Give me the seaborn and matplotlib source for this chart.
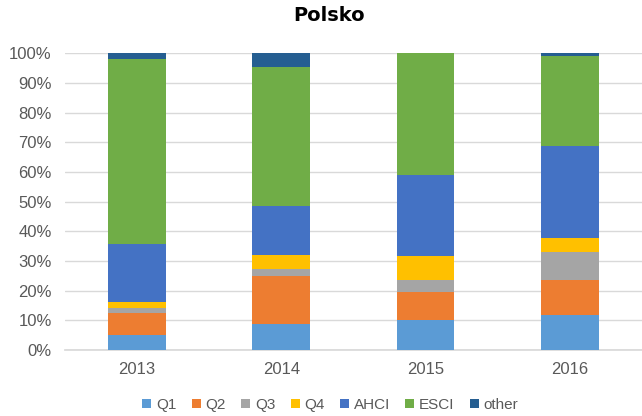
import matplotlib
matplotlib.use("Agg")
import matplotlib.pyplot as plt
import seaborn as sns
import pandas as pd
import numpy as np
from matplotlib.ticker import PercentFormatter

years = ["2013", "2014", "2015", "2016"]
series = ["Q1", "Q2", "Q3", "Q4", "AHCI", "ESCI", "other"]
q1 = [5.1, 8.9, 10.1, 11.7]
q2 = [7.3, 15.9, 9.5, 11.9]
q3 = [1.9, 2.5, 4.1, 9.5]
q4 = [1.8, 4.6, 8.1, 4.5]
ahci = [19.7, 16.8, 27.3, 31.3]
esci = [62.3, 46.8, 40.9, 30.3]
other = [1.9, 4.5, 0.0, 0.8]
values = [q1, q2, q3, q4, ahci, esci, other]
colors = ["#5B9BD5", "#ED7D31", "#A5A5A5", "#FFC000", "#4472C4", "#70AD47", "#255E91"]

sns.set_theme(style="white")
plt.rcParams['font.family'] = ['Liberation Sans', 'DejaVu Sans']

fig = plt.figure(figsize=(6.42, 4.16), dpi=100)
ax = fig.add_axes([0.101, 0.1587, 0.899, 0.713])

bottom = np.zeros(len(years))
for name, vals, col in zip(series, values, colors):
    df = pd.DataFrame({"year": years, "val": vals})
    sns.barplot(data=df, x="year", y="val", color=col, width=0.4, bottom=bottom,
                label=name, ax=ax, saturation=1, errorbar=None, zorder=3,
                linewidth=0)
    bottom = bottom + np.array(vals)

ax.set_ylim(0, 100)
ax.set_yticks(np.arange(0, 101, 10))
ax.yaxis.set_major_formatter(PercentFormatter(decimals=0))
ax.yaxis.grid(True, color="#D9D9D9", linewidth=1, zorder=0)
ax.set_axisbelow(True)
for s in ["top", "right", "left"]:
    ax.spines[s].set_visible(False)
ax.spines["bottom"].set_color("#D9D9D9")
ax.set_xlabel("")
ax.set_ylabel("")
ax.tick_params(axis="both", length=0, labelsize=12, colors="#595959")
ax.tick_params(axis="y", pad=9.5)
ax.tick_params(axis="x", pad=9)
ax.set_xlim(-0.5, 3.5)

fig.suptitle("Polsko", x=0.512, y=0.985, fontsize=14, fontweight="bold",
             family=["DejaVu Sans"], color="#000000")

handles, labels = ax.get_legend_handles_labels()
ax.legend(handles, labels, loc="lower center", bbox_to_anchor=(0.46, -0.255),
          ncol=7, frameon=False, fontsize=11, handlelength=0.6, handleheight=0.6,
          handletextpad=0.3, columnspacing=1.0, labelcolor="#595959")

fig.savefig("out.png", dpi=100)
